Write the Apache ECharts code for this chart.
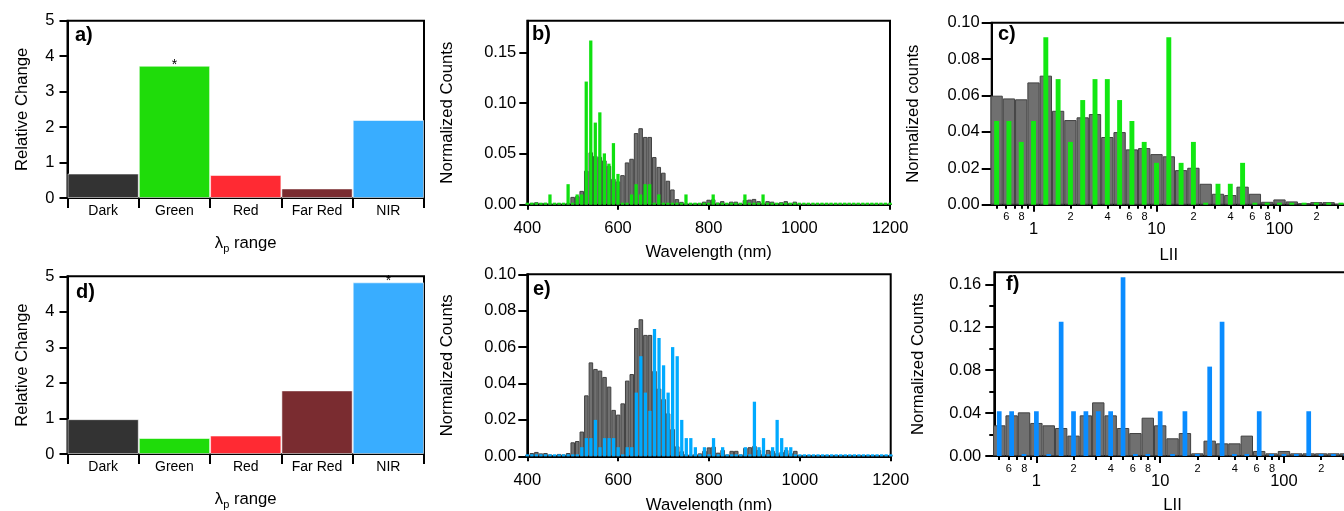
<!DOCTYPE html>
<html>
<head>
<meta charset="utf-8">
<title>Relative change, spectra and LII histograms</title>
<script src="https://cdn.jsdelivr.net/npm/echarts@6.0.0/dist/echarts.min.js"></script>
<style>
html,body{margin:0;padding:0;background:#ffffff;}
#chart{width:1344px;height:511px;}
</style>
</head>
<body>
<div id="chart"></div>
<script>
// ---------------- panels a) and d) ----------------
const lambdaRanges = ['Dark', 'Green', 'Red', 'Far Red', 'NIR'];
const rangeColors = ['#333333', '#1fdc0a', '#ff2a33', '#7a2c30', '#39adff'];
const relChangeA = [0.69, 3.73, 0.65, 0.27, 2.20];
const relChangeD = [0.98, 0.45, 0.52, 1.79, 4.83];
const signifA = ['', '*', '', '', ''];
const signifD = ['', '', '', '', '*'];

// ---------------- panels b) and e) ----------------
const wavelengthBins = [
  400, 410, 420, 430, 440, 450, 460, 470, 480, 490,
  500, 510, 520, 530, 540, 550, 560, 570, 580, 590,
  600, 610, 620, 630, 640, 650, 660, 670, 680, 690,
  700, 710, 720, 730, 740, 750, 760, 770, 780, 790,
  800, 810, 820, 830, 840, 850, 860, 870, 880, 890,
  900, 910, 920, 930, 940, 950, 960, 970, 980, 990,
  1000, 1010, 1020, 1030, 1040, 1050, 1060, 1070, 1080, 1090,
  1100, 1110, 1120, 1130, 1140, 1150, 1160, 1170, 1180, 1190, 1200
];
const countsReference = [
  0.0008, 0.0018, 0.0024, 0.0016, 0.0018, 0.0010, 0.0007, 0.0013, 0.0010, 0.0018,
  0.0077, 0.0084, 0.0136, 0.0335, 0.0516, 0.0480, 0.0471, 0.0436, 0.0383, 0.0255,
  0.0229, 0.0291, 0.0416, 0.0452, 0.0705, 0.0753, 0.0667, 0.0667, 0.0469, 0.0372,
  0.0315, 0.0236, 0.0150, 0.0055, 0.0028, 0.0012, 0.0010, 0.0012, 0.0016, 0.0030,
  0.0049, 0.0053, 0.0020, 0.0035, 0.0010, 0.0030, 0.0030, 0.0010, 0.0046, 0.0050,
  0.0057, 0.0035, 0.0013, 0.0035, 0.0030, 0.0017, 0.0024, 0.0035, 0.0017, 0.0030,
  0.0005, 0.0005, 0.0005, 0.0005, 0.0005, 0.0005, 0.0005, 0.0005, 0.0005, 0.0005,
  0.0005, 0.0005, 0.0005, 0.0005, 0.0005, 0.0005, 0.0005, 0.0005, 0.0005, 0.0005, 0.0005
];
const countsGreen = [
  0, 0, 0, 0, 0, 0.0101, 0, 0, 0, 0.0202,
  0, 0.0101, 0.0101, 0.1212, 0.1616, 0.0808, 0.0909, 0.0505, 0.0404, 0.0606,
  0.0303, 0, 0, 0.0101, 0.0202, 0.0101, 0.0202, 0.0202, 0, 0.0101,
  0, 0, 0, 0, 0, 0.0101, 0, 0, 0, 0,
  0, 0.0101, 0, 0, 0, 0, 0, 0, 0.0101, 0,
  0, 0, 0.0101, 0, 0, 0, 0, 0, 0, 0,
  0, 0, 0, 0, 0, 0, 0, 0, 0, 0,
  0, 0, 0, 0, 0, 0, 0, 0, 0, 0, 0
];
const countsNIR = [
  0, 0, 0, 0, 0, 0, 0, 0, 0, 0,
  0, 0, 0.005, 0.010, 0.010, 0.020, 0.005, 0.010, 0.010, 0.010,
  0.005, 0, 0.005, 0.005, 0.035, 0.055, 0.035, 0.025, 0.070, 0.065,
  0.050, 0.035, 0.060, 0.055, 0.020, 0.010, 0.010, 0.005, 0, 0.005,
  0, 0.010, 0, 0.005, 0, 0, 0, 0, 0.005, 0,
  0.030, 0.005, 0.010, 0, 0.005, 0.020, 0.010, 0.005, 0.005, 0,
  0, 0, 0, 0, 0, 0, 0, 0, 0, 0,
  0, 0, 0, 0, 0, 0, 0, 0, 0, 0, 0
];

// ---------------- panels c) and f) (LII, log10 bins) ----------------
const liiBinLog10 = [
  -0.3, -0.2, -0.1, 0.0, 0.1, 0.2, 0.3, 0.4, 0.5, 0.6,
  0.7, 0.8, 0.9, 1.0, 1.1, 1.2, 1.3, 1.4, 1.5, 1.6,
  1.7, 1.8, 1.9, 2.0, 2.1, 2.2, 2.3, 2.4, 2.5
];
const liiReferenceC = [
  0.0599, 0.0584, 0.0579, 0.0672, 0.0709, 0.0516, 0.0465, 0.0480, 0.0498, 0.0372,
  0.0399, 0.0304, 0.0311, 0.0278, 0.0266, 0.0190, 0.0203, 0.0115, 0.0060, 0.0053,
  0.0099, 0.0060, 0.0016, 0.0029, 0.0018, 0.0008, 0.0014, 0.0014, 0.0004
];
const liiGreenC = [
  0.046, 0.046, 0.0345, 0.046, 0.092, 0.069, 0.0345, 0.0575, 0.069, 0.069,
  0.0575, 0.046, 0.0345, 0.023, 0.092, 0.023, 0.0345, 0, 0.0115, 0.0115,
  0.023, 0, 0, 0, 0, 0, 0, 0, 0
];
const liiReferenceF = [
  0.0286, 0.0379, 0.0407, 0.0308, 0.0286, 0.0261, 0.0190, 0.0379, 0.0500, 0.0379,
  0.0261, 0.0214, 0.0357, 0.0286, 0.0165, 0.0214, 0.0025, 0.0143, 0.0118, 0.0118,
  0.0190, 0.0047, 0.0025, 0.0047, 0.0025, 0.0025, 0.0025, 0.0025, 0.0025
];
const liiNIRF = [
  0.0417, 0.0417, 0, 0.0417, 0, 0.125, 0.0417, 0.0417, 0.0417, 0.0417,
  0.1667, 0, 0, 0.0417, 0, 0.0417, 0, 0.0833, 0.125, 0,
  0, 0.0417, 0, 0, 0, 0.0417, 0, 0, 0
];
const liiMinorTicks = [0.5, 0.6, 0.7, 0.8, 0.9, 2, 3, 4, 5, 6, 7, 8, 9,
  20, 30, 40, 50, 60, 70, 80, 90, 200, 300];
const liiMinorLabels = [0.6, 0.8, 2, 4, 6, 8, 20, 40, 60, 80, 200];
const liiMajorTicks = [1, 10, 100];

// ---------------- tick labels for y axes ----------------
const yTicksB = [0, 0.05, 0.10, 0.15];
const yTicksF = [0, 0.04, 0.08, 0.12, 0.16];
const yMinorTicksF = [0.02, 0.06, 0.10, 0.14];

// ---------------- styling ----------------
const FONT = '"Liberation Sans", Arial, Helvetica, sans-serif';
const TICK_FS = 16.5;
const NAME_FS = 16.7;
const AXLINE = {color: '#000', width: 2};
const GRAY = {color: '#707070', borderColor: '#404040', borderWidth: 1};

function merge(a, b) {
  const r = Object.assign({}, a);
  for (const k in b) {
    const bv = b[k], av = a ? a[k] : undefined;
    if (bv && typeof bv === 'object' && !Array.isArray(bv) && av && typeof av === 'object' && !Array.isArray(av)) {
      r[k] = merge(av, bv);
    } else {
      r[k] = bv;
    }
  }
  return r;
}

function grid(left, top, width, height) {
  return {left, top, width, height, show: true, borderColor: '#000', borderWidth: 2,
    backgroundColor: 'transparent', containLabel: false, outerBoundsMode: 'none'};
}

const baseAxis = {
  axisLine: {show: true, onZero: false, lineStyle: AXLINE},
  axisTick: {show: true, inside: false, length: 6, lineStyle: AXLINE},
  axisLabel: {show: true, color: '#000', fontSize: TICK_FS, fontFamily: FONT, margin: 12},
  splitLine: {show: false},
  nameLocation: 'middle',
  nameTextStyle: {color: '#000', fontSize: NAME_FS, fontFamily: FONT}
};
const baseX = merge(baseAxis, {position: 'bottom'});
const baseY = merge(baseAxis, {position: 'left', nameRotate: 90, min: 0});

const log10 = v => Math.log10(v);
const leadDigit = v => {
  const n = Math.pow(10, v);
  const e = Math.floor(Math.log10(n) + 1e-9);
  return String(Math.round(n / Math.pow(10, e)));
};
const decadeLabel = v => String(Math.round(Math.pow(10, v)));

const lambdaName = '{a|λ}{b|p}{a| range}';
const lambdaRich = {
  a: {fontSize: NAME_FS, fontFamily: FONT, color: '#000', lineHeight: 17, verticalAlign: 'top'},
  b: {fontSize: 11, fontFamily: FONT, color: '#000', lineHeight: 11, padding: [8, 0, 0, 0], verticalAlign: 'top'}
};

function categoryX(gridIndex) {
  return merge(baseX, {
    type: 'category', gridIndex, data: lambdaRanges, boundaryGap: true,
    axisTick: {length: 10, interval: 0, alignWithLabel: false},
    axisLabel: {fontSize: 14, margin: 6, interval: 0},
    name: lambdaName, nameGap: 37, nameTextStyle: {rich: lambdaRich}
  });
}
function wavelengthX(gridIndex, gap, margin) {
  return merge(baseX, {
    type: 'value', gridIndex, min: 400, max: 1200, interval: 200,
    axisTick: {length: 5}, axisLabel: {margin, formatter: v => String(v)},
    name: 'Wavelength (nm)', nameGap: gap
  });
}
function hiddenX(gridIndex, min, max) {
  return {type: 'value', gridIndex, min, max, show: false, position: 'bottom',
    axisLine: {onZero: false}, splitLine: {show: false}};
}
function logMinorX(gridIndex, min, max, margin) {
  return merge(baseX, {
    type: 'value', gridIndex, min, max,
    axisTick: {length: 4, customValues: liiMinorTicks.map(log10)},
    axisLabel: {fontSize: 11, margin, customValues: liiMinorLabels.map(log10), formatter: leadDigit}
  });
}
function logMajorX(gridIndex, min, max, margin, gap) {
  return merge(baseX, {
    type: 'value', gridIndex, min, max,
    axisLine: {show: false},
    axisTick: {length: 7, customValues: liiMajorTicks.map(log10)},
    axisLabel: {margin, customValues: liiMajorTicks.map(log10), formatter: decadeLabel},
    name: 'LII', nameGap: gap
  });
}

const LOGMIN = -0.34, LOGMAX = 2.54;

const option = {
  animation: false,
  backgroundColor: '#ffffff',
  textStyle: {fontFamily: FONT, color: '#000'},
  title: [
    ['a)', 75, 25], ['b)', 532, 24], ['c)', 998, 24],
    ['d)', 76, 282], ['e)', 533, 279], ['f)', 1006, 274]
  ].map(([t, l, tp]) => ({text: t, left: l, top: tp, padding: 0,
    textStyle: {fontSize: 20, fontWeight: 'bold', fontFamily: FONT, color: '#000'}})),
  grid: [
    grid(67.5, 20.7, 356.5, 177.3),
    grid(527.3, 20.7, 362.7, 184),
    grid(991.7, 22.7, 354.2, 182),
    grid(67.5, 276.3, 356.5, 177.7),
    grid(527.3, 274.3, 363.4, 182),
    grid(994.3, 272.3, 356.5, 183.7)
  ],
  xAxis: [
    categoryX(0),                                  // 0 a
    wavelengthX(1, 39, 15),                        // 1 b
    hiddenX(1, 400, 1200),                         // 2 b spikes
    logMinorX(2, LOGMIN, LOGMAX, 7),               // 3 c minor
    hiddenX(2, LOGMIN, LOGMAX),                    // 4 c spikes
    logMajorX(2, LOGMIN, LOGMAX, 16, 42),          // 5 c major
    categoryX(3),                                  // 6 d
    wavelengthX(4, 41, 16),                        // 7 e
    hiddenX(4, 400, 1200),                         // 8 e spikes
    logMinorX(5, LOGMIN, LOGMAX, 7),               // 9 f minor
    hiddenX(5, LOGMIN, LOGMAX),                    // 10 f spikes
    logMajorX(5, LOGMIN, LOGMAX, 17, 41)           // 11 f major
  ],
  yAxis: [
    merge(baseY, {type: 'value', gridIndex: 0, max: 5, interval: 1, axisTick: {length: 8}, axisLabel: {margin: 13},
      name: 'Relative Change', nameGap: 37}),
    merge(baseY, {type: 'value', gridIndex: 1, max: 0.1811, axisTick: {length: 8, customValues: yTicksB},
      axisLabel: {margin: 11, customValues: yTicksB, formatter: v => v.toFixed(2)},
      name: 'Normalized Counts', nameGap: 71}),
    merge(baseY, {type: 'value', gridIndex: 2, max: 0.1, interval: 0.02, axisTick: {length: 10},
      axisLabel: {margin: 12, formatter: v => v.toFixed(2)},
      name: 'Normalized counts', nameGap: 70}),
    merge(baseY, {type: 'value', gridIndex: 3, max: 5, interval: 1, axisTick: {length: 8}, axisLabel: {margin: 13},
      name: 'Relative Change', nameGap: 37}),
    merge(baseY, {type: 'value', gridIndex: 4, max: 0.1, interval: 0.02, axisTick: {length: 9},
      axisLabel: {margin: 11, formatter: v => v.toFixed(2)},
      name: 'Normalized Counts', nameGap: 71}),
    merge(baseY, {type: 'value', gridIndex: 5, max: 0.1712, axisTick: {length: 9, customValues: yTicksF},
      axisLabel: {margin: 13, customValues: yTicksF, formatter: v => v.toFixed(2)},
      name: 'Normalized Counts', nameGap: 67}),
    merge(baseY, {type: 'value', gridIndex: 5, max: 0.1712, axisLine: {show: false},
      axisTick: {length: 5, customValues: yMinorTicksF}, axisLabel: {show: false}})
  ],
  series: []
};

function rangeBars(values, signif, xi, yi) {
  return {
    type: 'bar', xAxisIndex: xi, yAxisIndex: yi, barCategoryGap: '0%', barWidth: '100%', silent: true,
    data: values.map((v, i) => ({value: v, itemStyle: {color: rangeColors[i]},
      label: {show: signif[i] !== '', formatter: signif[i]}})),
    itemStyle: {borderColor: 'rgba(255,255,255,0.55)', borderWidth: 1},
    label: {position: 'top', distance: -6, color: '#000', fontSize: 14, fontFamily: FONT}
  };
}
function refBars(xs, ys, xi, yi) {
  return {type: 'bar', xAxisIndex: xi, yAxisIndex: yi, barWidth: '100%', silent: true,
    data: xs.map((x, i) => [x, ys[i]]), itemStyle: GRAY};
}
function spikeBars(xs, ys, xi, yi, color, width) {
  return {type: 'bar', xAxisIndex: xi, yAxisIndex: yi, barWidth: width, barMinHeight: 2, silent: true,
    data: xs.map((x, i) => [x, ys[i]]), itemStyle: {color}};
}

option.series.push(
  rangeBars(relChangeA, signifA, 0, 0),
  refBars(wavelengthBins, countsReference, 1, 1),
  spikeBars(wavelengthBins, countsGreen, 2, 1, '#10e010', '72%'),
  refBars(liiBinLog10, liiReferenceC, 3, 2),
  spikeBars(liiBinLog10, liiGreenC, 4, 2, '#12e812', '40%'),
  rangeBars(relChangeD, signifD, 6, 3),
  refBars(wavelengthBins, countsReference, 7, 4),
  spikeBars(wavelengthBins, countsNIR, 8, 4, '#00aaff', '72%'),
  refBars(liiBinLog10, liiReferenceF, 9, 5),
  spikeBars(liiBinLog10, liiNIRF, 10, 5, '#0a8cff', '38%')
);

const chart = echarts.init(document.getElementById('chart'), null, {renderer: 'canvas'});
chart.setOption(option);
</script>
</body>
</html>
